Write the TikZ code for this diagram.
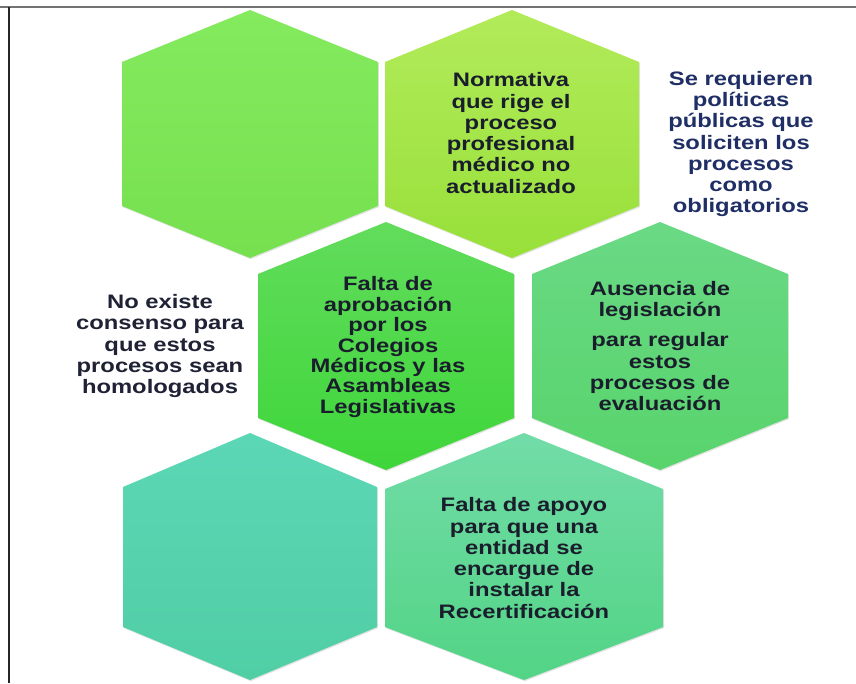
\documentclass[tikz,border=0pt]{standalone}
\usepackage{fontspec}
\usetikzlibrary{shadows}
\newfontfamily\hexfont{Liberation Sans}[FakeStretch=1.22]
\definecolor{hexink}{HTML}{1A1E2C}
\definecolor{navyink}{HTML}{1F2F66}
\definecolor{sideink}{HTML}{1E2234}
\definecolor{hAt}{HTML}{84EA5E}\definecolor{hAb}{HTML}{76E04F}
\definecolor{hBt}{HTML}{B2EB5A}\definecolor{hBb}{HTML}{98E03A}
\definecolor{hCt}{HTML}{62DC5C}\definecolor{hCb}{HTML}{3ED63A}
\definecolor{hDt}{HTML}{6AD985}\definecolor{hDb}{HTML}{58D46C}
\definecolor{hEt}{HTML}{5CD7B6}\definecolor{hEb}{HTML}{50CEA4}
\definecolor{hFt}{HTML}{72DCA8}\definecolor{hFb}{HTML}{52D485}
\tikzset{
  hexstyle/.style={drop shadow={opacity=0.22, shadow xshift=0.8pt, shadow yshift=-1.2pt}},
  hextext/.style={font=\hexfont\bfseries\fontsize{19.5}{21.3}\selectfont,
    text=hexink, align=center, inner sep=0pt},
  sidetext/.style={hextext, text=sideink},
  navytext/.style={hextext, text=navyink},
}
% #1 style, #2 xl, #3 cx, #4 xr, #5 top, #6 upper shoulder, #7 lower shoulder, #8 bottom
\newcommand{\hxg}[8]{%
  \path[hexstyle,#1] (#2,#6) -- (#3,#5) -- (#4,#6) -- (#4,#7) -- (#3,#8) -- (#2,#7) -- cycle;}
\begin{document}
\begin{tikzpicture}[x=1pt,y=-1pt]
\useasboundingbox (0,0) rectangle (856,683);
\fill[white] (0,0) rectangle (856,683);
% frame
\draw[black!55, line width=2pt] (0,7) -- (856,7);
\draw[black!85, line width=1.6pt] (9,7) -- (9,683);
% hexagons
\hxg{top color=hAt, bottom color=hAb}{122}{250}{378}{10}{62}{206}{258}
\hxg{top color=hBt, bottom color=hBb}{385}{512}{639}{10}{62}{206}{258}
\hxg{top color=hCt, bottom color=hCb}{258}{386}{514}{222}{274}{418}{470}
\hxg{top color=hDt, bottom color=hDb}{532}{660}{788}{222}{274}{418}{470}
\hxg{top color=hEt, bottom color=hEb}{123}{250}{377}{433}{487}{627}{680}
\hxg{top color=hFt, bottom color=hFb}{385}{524}{663}{433}{489}{627}{680}
% texts
\node[hextext] (t2) at (511,133) {Normativa\\que rige el\\proceso\\profesional\\médico no\\actualizado};
\node[navytext] (t7) at (741,144) {Se requieren\\políticas\\públicas que\\soliciten los\\procesos\\como\\obligatorios};
\node[hextext, font=\hexfont\bfseries\fontsize{19.5}{20.4}\selectfont] (t3) at (388,347) {Falta de\\aprobación\\por los\\Colegios\\Médicos y las\\Asambleas\\Legislativas};
\node[hextext] (t4) at (660,346) {Ausencia de\\legislación\\[9pt]para regular\\estos\\procesos de\\evaluación};
\node[sidetext] (t8) at (160,346) {No existe\\consenso para\\que estos\\procesos sean\\homologados};
\node[hextext] (t6) at (524,558) {Falta de apoyo\\para que una\\entidad se\\encargue de\\instalar la\\Recertificación};
\end{tikzpicture}
\end{document}
